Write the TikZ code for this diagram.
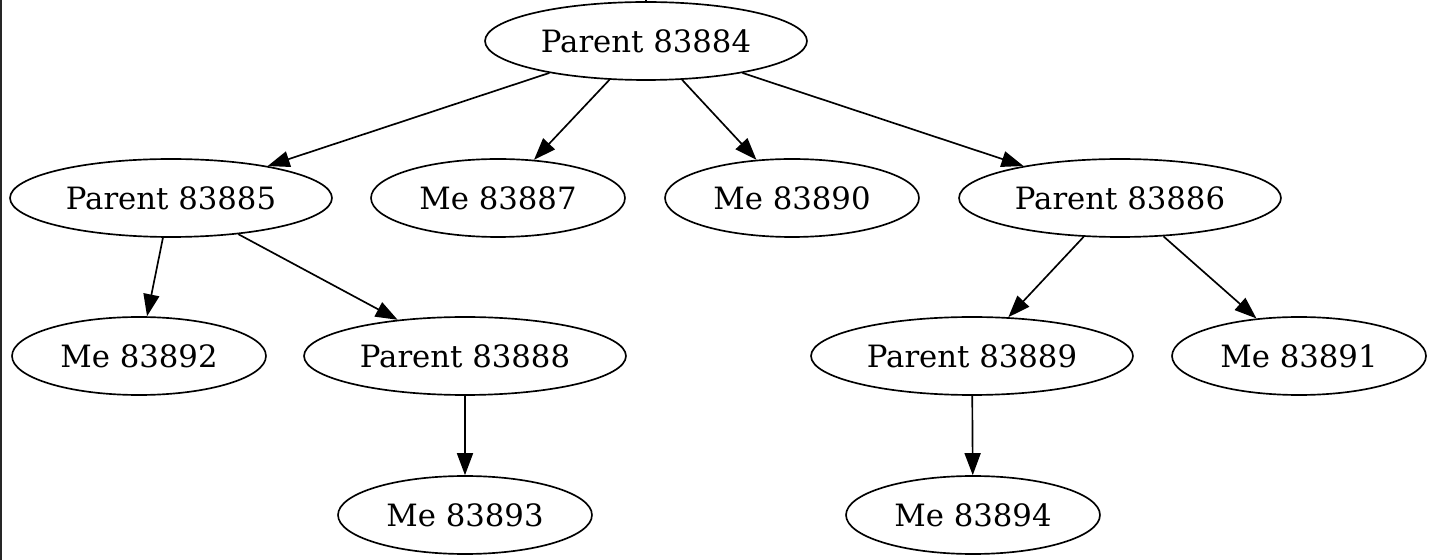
\documentclass[tikz,border=0pt]{standalone}
\usepackage{fontspec}
\setmainfont{DejaVu Serif}
\usetikzlibrary{shapes.geometric, arrows.meta}

\begin{document}
\begin{tikzpicture}[x=0.02cm, y=-0.02cm, line width=0.95pt,
        main/.style = {draw, ellipse, inner sep=0pt, minimum height=1.56cm, font=\fontsize{17.5}{20}\selectfont},
        par/.style = {main, minimum width=6.44cm},
        me/.style = {main, minimum width=5.08cm},
        >={Triangle[length=0.44cm, width=0.32cm]}]
        \useasboundingbox (0,0) rectangle (1434,560);
        \fill[black!85] (0,0) rectangle (2,560);
         \node[par] at (646, 41) (p84) {Parent 83884};
         \node[par] at (171, 198) (p85) {Parent 83885};
         \node[me] at (498, 198) (m87) {Me 83887};
         \node[me] at (792, 198) (m90) {Me 83890};
         \node[par] at (1120, 198) (p86) {Parent 83886};
         \node[me] at (139, 356) (m92) {Me 83892};
         \node[par] at (465, 356) (p88) {Parent 83888};
         \node[par] at (972, 356) (p89) {Parent 83889};
         \node[me] at (1299, 356) (m91) {Me 83891};
         \node[me] at (465, 515) (m93) {Me 83893};
         \node[me] at (973, 515) (m94) {Me 83894};
         \coordinate (top) at (646, 0);
        \draw (top) -- (p84);
        \draw[->] (p84) -- (p85);
        \draw[->] (p84) -- (m87);
        \draw[->] (p84) -- (m90);
        \draw[->] (p84) -- (p86);
        \draw[->] (p85) -- (m92);
        \draw[->] (p85) -- (p88);
        \draw[->] (p88) -- (m93);
        \draw[->] (p86) -- (p89);
        \draw[->] (p86) -- (m91);
        \draw[->] (p89) -- (m94);
        \end{tikzpicture}
\end{document}
